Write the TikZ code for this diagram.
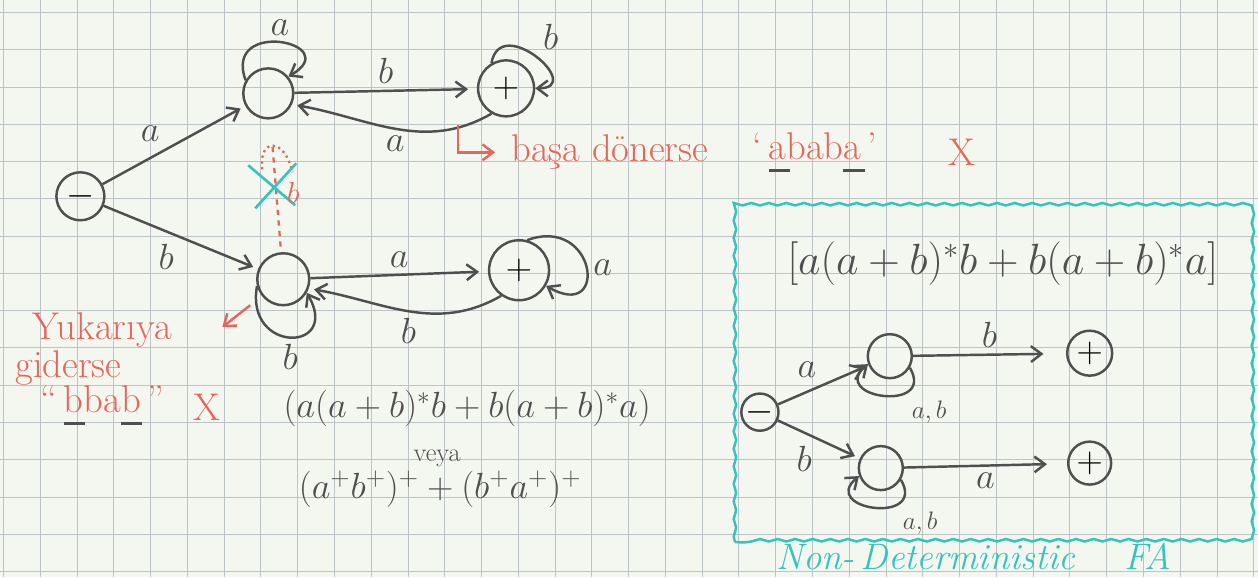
\documentclass[tikz,border=0pt]{standalone}
\usepackage{amsmath}
\usepackage{fontspec}
\usepackage{tikz}
\usetikzlibrary{arrows.meta}
\usetikzlibrary{calc}
\usetikzlibrary{positioning,decorations.pathmorphing}
\usepackage{xcolor}

\definecolor{pencil}{HTML}{4F4F4F}
\definecolor{redink}{HTML}{E4675A}
\definecolor{tealink}{HTML}{35C4BB}
\definecolor{paper}{HTML}{F4F6F0}
\definecolor{gridc}{HTML}{BCC4C6}

% black mark under a letter of the red text
\newcommand{\blkbar}[1]{\leavevmode\rlap{\color{pencil}\rule[-0.32em]{0.55em}{1.6pt}}#1}

\begin{document}
\begin{tikzpicture}[ x=0.02cm, y=0.02cm, >={Straight Barb[length=6pt,width=9pt]},
      pen/.style={draw=pencil, line width=1.4pt},
      fastate/.style={circle, pen, minimum size=#1, inner sep=0pt,
        font=\fontsize{20}{22}\selectfont},
      trans/.style={pen, ->, shorten >=3pt},
      lbl/.style={text=pencil, font=\fontsize{20}{22}\selectfont},
      small/.style={text=pencil, font=\fontsize{15}{17}\selectfont},
      redtxt/.style={text=redink, font=\fontsize{22}{24}\selectfont},
      redarrow/.style={draw=redink, line width=1.4pt, ->},
      gridline/.style={draw=gridc, line width=0.5pt} ]

      % Paper
      \fill[paper] (0,0) rectangle (1258,577);
      \foreach \k in {0,...,34} \draw[gridline] ({3+36.8*\k},0) --
      ({3+36.8*\k},577);
      \foreach \k in {0,...,15} \draw[gridline] (0,{565-37.3*\k}) --
      (1258,{565-37.3*\k});
      \useasboundingbox (0,0) rectangle (1258,577);

      % DFA states
      \node[fastate=0.96cm] (st) at (80,381) {$-$};
      \node[fastate=1.0cm] (qa) at (268,484) {};
      \node[fastate=1.12cm] (fa) at (506,489) {$+$};
      \node[fastate=1.04cm] (qb) at (283,298) {};
      \node[fastate=1.2cm] (fb) at (519,307) {$+$};

      % DFA transitions
      \draw[trans] (st) -- node[lbl, above left, pos=0.45] {$a$} (qa);
      \draw[trans] (st) -- node[lbl, below left] {$b$} (qb);
      \draw[trans, shorten >=5pt] (qa) -- node[lbl, above] {$b$} (fa);
      \draw[trans] (fa.240) to[out=-150, in=-10] node[lbl, below] {$a$}
      (qa.-25);
      \draw[trans, shorten >=5pt] (qb) -- node[lbl, above] {$a$} (fb);
      \draw[trans] (fb.235) to[out=-150, in=-10] node[lbl, below] {$b$}
      (qb.-20);

      % Loops
      \draw[trans, shorten >=0pt] (qa.150) to[out=110, in=30, looseness=4]
      node[lbl, above] {$a$} (qa.40);
      \draw[trans, shorten >=0pt] (fa.120) to[out=80, in=0, looseness=2.6]
      node[lbl, above right] {$b$} (fa.0);
      \draw[trans, shorten >=0pt] (qb.195) to[out=-100, in=-60, looseness=3.5]
      node[lbl, below] {$b$} (qb.-30);
      \draw[trans, shorten >=0pt] (fb.75) to[out=20, in=-30, looseness=3.8]
      node[lbl, right] {$a$} (fb.-30);

      % Crossed out b
      \draw[redink, line width=1.3pt, dashed, shorten <=0.55cm,
        shorten >=2pt] (qa) -- (qb);
      \draw[redink, line width=1.3pt, dotted] (262,408) .. controls
      (258,440) and (285,440) .. (292,405);
      \draw[tealink, line width=1.5pt] (248,412) -- (295,372) (255,369) --
      (296,414);
      \node[redtxt, font=\fontsize{16}{18}\selectfont] (xb) at (293,384) {$b$};

      % Notes
      \coordinate (hk) at (458,452);
      \node[redtxt, anchor=west] (dn) at (505,425) {başa dönerse};
      \draw[redarrow, shorten >=0.2cm] (hk) |- (dn.west);
      \node[redtxt] (ab) at (815,425) {`\,\blkbar{a}bab\blkbar{a}\,'};
      \node[redtxt] (ax) at (962,425) {X};

      \node[redtxt] (yk) at (102,247) {Yukarıya};
      \node[redtxt] (gd) at (68,209) {giderse};
      \node[redtxt] (bb) at (102,172) {``\,\blkbar{b}ba\blkbar{b}\,''};
      \node[redtxt] (bx) at (207,170) {X};
      \coordinate (ra1) at (250,272); \coordinate (ra2) at (222,250);
      \draw[redarrow] (ra1) -- (ra2);

      % Expressions
      \node[lbl, font=\fontsize{22}{26}\selectfont] (re1) at (467,169)
      {$(a(a+b)^*b+b(a+b)^*a)$};
      \node[small] (vy) at (437,119) {veya};
      \node[lbl] (re2) at (440,88) {$(a^+b^+)^+ + (b^+a^+)^+$};

      % NFA box
      \draw[tealink, line width=1.4pt, decorate, decoration={snake,
          amplitude=0.7pt, segment length=10pt}] (735,35) rectangle (1248,372);
      \node[lbl, font=\fontsize{26}{30}\selectfont] (re3) at (1003,314)
      {$[a(a+b)^*b+b(a+b)^*a]$};

      \node[fastate=0.72cm] (ns) at (760,165) {$-$};
      \node[fastate=0.88cm] (n1) at (890,221) {};
      \node[fastate=0.9cm] (nf1) at (1090,224) {$+$};
      \node[fastate=0.88cm] (n2) at (881,109) {};
      \node[fastate=0.86cm] (nf2) at (1090,114) {$+$};

      \draw[trans] (ns) -- node[lbl, above left, pos=0.5] {$a$} (n1);
      \draw[trans] (ns) -- node[lbl, below left] {$b$} (n2);
      \draw[trans, shorten >=0.45cm] (n1) -- node[lbl, above] {$b$} (nf1);
      \draw[trans, shorten >=0.4cm] (n2) -- node[lbl, below] {$a$} (nf2);
      \draw[trans, shorten >=0pt] (n1.-30) to[out=-60, in=-140, looseness=3.2]
      node[small, below right, pos=0.3] {$a,b$} (n1.200);
      \draw[trans, shorten >=0pt] (n2.-30) to[out=-60, in=-140, looseness=3.2]
      node[small, below right, pos=0.3] {$a,b$} (n2.200);

      \node[text=tealink, font=\fontsize{21}{24}\selectfont\itshape] (cap) at
      (974,21) {Non-\,Deterministic\quad\ FA};
    \end{tikzpicture}
\end{document}
